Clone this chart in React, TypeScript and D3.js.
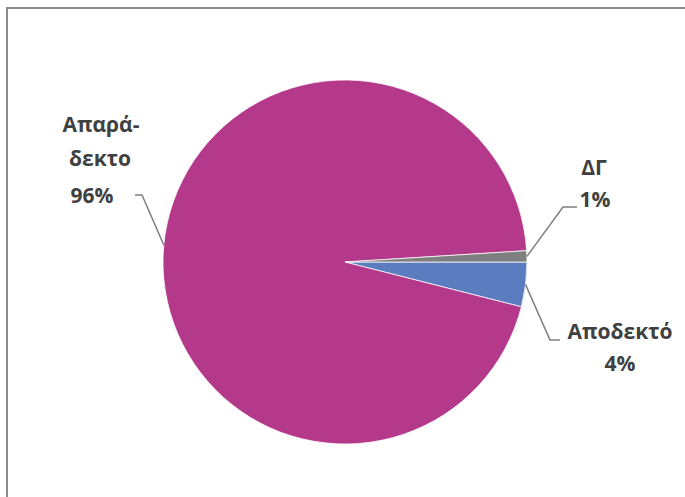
import React from "react";
import * as d3 from "d3";

const categories = ["Αποδεκτό", "Απαράδεκτο", "ΔΓ"];
const values = [4, 96, 1]; // percentages as shown on the labels
const nameLines = [["Αποδεκτό"], ["Απαρά-", "δεκτο"], ["ΔΓ"]];
const colors = ["#5B7DBF", "#B5398A", "#7F7F7F"];

// layout (not data)
const W = 685;
const H = 497;
const CX = 345;
const CY = 262;
const R = 182;
const FONT = "'Open Sans', 'Noto Sans', sans-serif";
const FS = 21;

type LabelLayout = {
  elbow: [number, number];
  end: [number, number];
  lines: { x: number; y: number }[];
};
const labelLayout: LabelLayout[] = [
  { elbow: [550, 340], end: [560, 340], lines: [{ x: 620, y: 339 }, { x: 620, y: 371 }] },
  {
    elbow: [142, 195],
    end: [135, 195],
    lines: [{ x: 101, y: 132 }, { x: 100, y: 166 }, { x: 92, y: 203 }],
  },
  { elbow: [563, 207], end: [577, 207], lines: [{ x: 594, y: 175 }, { x: 595, y: 207 }] },
];

export default function App() {
  const pie = d3
    .pie<number>()
    .sort(null)
    .startAngle(Math.PI / 2)
    .endAngle(Math.PI / 2 + 2 * Math.PI)
    .value((d) => d);
  const arcs = pie(values);
  const arc = d3.arc<d3.PieArcDatum<number>>().innerRadius(0).outerRadius(R);
  const edge = d3.arc<d3.PieArcDatum<number>>().innerRadius(R).outerRadius(R);

  return (
    <svg
      width={W}
      height={H}
      style={{ position: "absolute", left: 0, top: 0, background: "#fff" }}
    >
      <rect x={7} y={8} width={W} height={H} fill="#fff" stroke="#8c8c8c" strokeWidth={2} />
      <g transform={`translate(${CX},${CY})`}>
        {arcs.map((a, i) => (
          <path key={categories[i]} d={arc(a) || ""} fill={colors[i]} stroke="#fff" strokeWidth={0.75} />
        ))}
      </g>
      {arcs.map((a, i) => {
        const [ex, ey] = edge.centroid(a);
        const L = labelLayout[i];
        const pct = values[i] + "%";
        const texts = [...nameLines[i], pct];
        return (
          <g key={"lbl" + i}>
            <polyline
              points={`${CX + ex},${CY + ey} ${L.elbow[0]},${L.elbow[1]} ${L.end[0]},${L.end[1]}`}
              fill="none"
              stroke="#7f7f7f"
              strokeWidth={1.5}
            />
            {texts.map((t, j) => (
              <text
                key={j}
                x={L.lines[j].x}
                y={L.lines[j].y}
                textAnchor="middle"
                fontFamily={FONT}
                fontWeight={700}
                fontSize={FS}
                fill="#404040"
              >
                {t}
              </text>
            ))}
          </g>
        );
      })}
    </svg>
  );
}
